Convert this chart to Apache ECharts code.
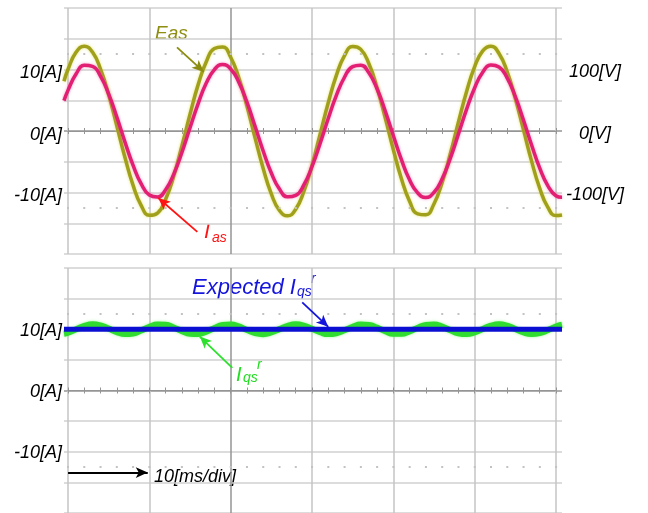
<!DOCTYPE html>
<html>
<head>
<meta charset="utf-8">
<script src="https://cdn.jsdelivr.net/npm/echarts@6/dist/echarts.min.js"></script>
<style>
  html, body { margin: 0; padding: 0; background: #fff; }
  #chart { width: 648px; height: 513px; }
</style>
</head>
<body>
<div id="chart"></div>
<script>
// sample times [ms]
var timesMs = [-0.5, 0, 1, 2, 3, 4, 5, 6, 7, 8, 9, 10, 11, 12, 13, 14, 15, 16, 17, 18, 19, 20,
  21, 22, 23, 24, 25, 26, 27, 28, 29, 30, 31, 32, 33, 34, 35, 36, 37, 38, 39, 40,
  41, 42, 43, 44, 45, 46, 47, 48, 49, 50, 51, 52, 53, 54, 55, 56, 57, 58, 59, 60, 60.75];

// Eas [V] (right axis)
var easV = [80.9, 100.4, 128.3, 138, 128.3, 100.4, 58.5, 8.2, -43.2, -88.5, -121.3, -137.0, -133.4,
  -110.9, -73.0, -24.4, 27.3, 75.4, 112.6, 134.1, 136.7, 120.0, 86.3, 40.6, -11.1, -60.9,
  -102.4, -129.3, -138.0, -127.2, -98.4, -55.9, -5.3, 45.8, 90.5, 122.6, 137.3, 132.7, 109.3,
  70.5, 21.8, -30.1, -77.6, -114.3, -134.7, -136.2, -118.6, -84.2, -37.8, 13.9, 63.5, 104.3,
  130.3, 137.9, 126.1, 96.5, 53.2, 2.6, -48.6, -92.7, -123.9, -137.6, -136.6];

// Ias [A] (left axis)
var iasA = [4.94, 6.65, 9.32, 10.68, 10.52, 8.89, 6.00, 2.26, -1.80, -5.59, -8.61, -10.41, -10.74,
  -9.56, -7.01, -3.50, 0.53, 4.46, 7.79, 9.99, 10.80, 10.08, 7.95, 4.68, 0.77, -3.26,
  -6.83, -9.44, -10.71, -10.47, -8.76, -5.80, -2.04, 2.03, 5.79, 8.74, 10.47, 10.71, 9.45,
  6.86, 3.28, -0.73, -4.67, -7.93, -10.07, -10.80, -10.00, -7.80, -4.48, -0.55, 3.48, 7.00,
  9.55, 10.73, 10.41, 8.63, 5.63, 1.82, -2.23, -5.98, -8.87, -10.52, -10.78];

// measured Iqs^r [A]
var iqsA = [9.27, 9.44, 9.99, 10.54, 10.80, 10.62, 10.11, 9.54, 9.22, 9.32, 9.80, 10.38, 10.76,
  10.72, 10.29, 9.70, 9.27, 9.24, 9.62, 10.21, 10.68, 10.78, 10.46, 9.89, 9.37, 9.20,
  9.47, 10.02, 10.56, 10.80, 10.60, 10.08, 9.51, 9.21, 9.34, 9.83, 10.41, 10.77, 10.71,
  10.26, 9.67, 9.26, 9.25, 9.65, 10.24, 10.70, 10.78, 10.43, 9.85, 9.35, 9.21, 9.49,
  10.05, 10.58, 10.80, 10.58, 10.04, 9.48, 9.21, 9.36, 9.86, 10.44, 10.73];

// expected Iqs^r [A]
var expTimesMs = [-0.5, 60.75];
var expIqsA = [10, 10];

// tick labels
var ampTicks = [10, 0, -10];
var ampLabels = ['10[A]', '0[A]', '-10[A]'];
var voltTicks = [100, 0, -100];
var voltLabels = ['100[V]', '0[V]', '-100[V]'];
var dotLevelsA = [12.5, -12.5];

function pairs(xs, ys) {
  return xs.map(function (x, i) { return [x, ys[i]]; });
}
function pickLabel(ticks, labels) {
  return function (v) {
    var i = ticks.indexOf(v);
    return i < 0 ? '' : labels[i];
  };
}

var GRID = '#d0d0d0';
var VGRID = '#c4c4c4';
var DARK = '#959595';
var FONT = '"Liberation Sans", Arial, sans-serif';
var hColors = [GRID, GRID, GRID, GRID, DARK, GRID, GRID, GRID, GRID];
var vColors = [VGRID, VGRID, DARK, VGRID, VGRID, VGRID, VGRID];

var labelStyle = {
  color: '#000', fontStyle: 'italic', fontSize: 18, fontFamily: FONT, verticalAlign: 'top'
};

function ampAxis(grid, shift) {
  return {
    gridIndex: grid, type: 'value', min: -20, max: 20, interval: 5, position: 'left',
    axisLine: { show: false, onZero: false }, axisTick: { show: false },
    splitLine: { show: true, lineStyle: { color: hColors, width: 1.5 } },
    axisLabel: Object.assign({ margin: 2, lineHeight: shift * 2, formatter: pickLabel(ampTicks, ampLabels) }, labelStyle)
  };
}
function hiddenY(grid, pos) {
  return { gridIndex: grid, type: 'value', min: -20, max: 20, position: pos, show: false };
}
function divAxis(grid, pos, lines) {
  return {
    gridIndex: grid, type: 'value', min: 0, max: 60, interval: 10, position: pos,
    axisLine: { show: true, onZero: true, lineStyle: { color: DARK, width: 1 } },
    axisTick: { show: true, length: 3, lineStyle: { color: DARK } },
    minorTick: { show: true, splitNumber: 5, length: 3, lineStyle: { color: DARK } },
    axisLabel: { show: false },
    splitLine: { show: lines, lineStyle: { color: vColors, width: 1.5 } }
  };
}
function dotLines() {
  return dotLevelsA.map(function (v) {
    return { yAxis: v, lineStyle: { color: '#c2c2c2', width: 2, type: [2, 14.27], dashOffset: 13.27 } };
  });
}
function arrow(from, to, color) {
  return [
    { coord: from, symbol: 'none', lineStyle: { color: color, width: 1.8, type: 'solid' } },
    { coord: to, symbol: 'arrow', symbolSize: [8, 12], itemStyle: { color: color } }
  ];
}

var chart = echarts.init(document.getElementById('chart'));

var option = {
  animation: false,
  backgroundColor: '#fff',
  grid: [
    { left: 64, right: 86, top: 8, height: 246 },
    { left: 68, right: 92, top: 8, height: 246 },
    { left: 64, right: 86, top: 268, height: 250 },
    { left: 68, right: 92, top: 268, height: 250 }
  ],
  xAxis: [
    { gridIndex: 0, type: 'value', min: -0.5, max: 60.75, show: false },
    divAxis(1, 'bottom', true),
    divAxis(1, 'top', false),
    { gridIndex: 2, type: 'value', min: -0.5, max: 60.75, show: false },
    divAxis(3, 'bottom', true),
    divAxis(3, 'top', false)
  ],
  yAxis: [
    ampAxis(0, 3.5),
    {
      gridIndex: 0, type: 'value', min: -200, max: 200, interval: 50, position: 'right',
      axisLine: { show: false, onZero: false }, axisTick: { show: false }, splitLine: { show: false },
      axisLabel: Object.assign({ margin: 33, align: 'center', lineHeight: 5,
        formatter: pickLabel(voltTicks, voltLabels) }, labelStyle)
    },
    hiddenY(1, 'left'),
    hiddenY(1, 'right'),
    ampAxis(2, 1.5),
    hiddenY(3, 'left'),
    hiddenY(3, 'right')
  ],
  series: [
    {
      name: 'Eas', type: 'line', xAxisIndex: 0, yAxisIndex: 1, smooth: true, showSymbol: false,
      data: pairs(timesMs, easV),
      lineStyle: { color: '#a0a01a', width: 3.5, shadowColor: 'rgba(215,215,60,0.7)', shadowBlur: 3 }
    },
    {
      name: 'Ias', type: 'line', xAxisIndex: 0, yAxisIndex: 0, smooth: true, showSymbol: false,
      data: pairs(timesMs, iasA),
      lineStyle: { color: '#e21f72', width: 3.5, shadowColor: 'rgba(240,90,160,0.6)', shadowBlur: 3 },
      markLine: {
        silent: true, animation: false, symbol: ['none', 'none'], label: { show: false },
        data: dotLines().concat([
          arrow([13.4, 13.6], [16.7, 9.6], '#8c8c10'),
          arrow([15.9, -16.4], [11.1, -10.9], '#ff1414')
        ])
      }
    },
    {
      name: 'Iqs^r', type: 'line', xAxisIndex: 3, yAxisIndex: 4, smooth: true, showSymbol: false,
      data: pairs(timesMs, iqsA),
      lineStyle: { color: '#2fdc2f', width: 6, shadowColor: 'rgba(120,240,120,0.7)', shadowBlur: 3 },
      markLine: {
        silent: true, animation: false, symbol: ['none', 'none'], label: { show: false },
        data: dotLines().concat([
          arrow([28.8, 14.4], [32.0, 10.4], '#1414dc'),
          arrow([20.2, 3.7], [16.2, 8.8], '#2ee02e'),
          arrow([0, -13.4], [9.8, -13.4], '#000')
        ])
      }
    },
    {
      name: 'Expected Iqs^r', type: 'line', xAxisIndex: 3, yAxisIndex: 4, showSymbol: false,
      data: pairs(expTimesMs, expIqsA),
      lineStyle: { color: '#0b0fd2', width: 5 }
    }
  ],
  graphic: [
    { type: 'text', x: 155, y: 34, style: { text: 'Eas', font: 'italic 19px ' + FONT, fill: '#8e8e12', verticalAlign: 'middle' } },
    { type: 'text', x: 204, y: 232, style: { text: 'I', font: 'italic 21px ' + FONT, fill: '#ff1414', verticalAlign: 'middle' } },
    { type: 'text', x: 212, y: 238, style: { text: 'as', font: 'italic 14px ' + FONT, fill: '#ff1414', verticalAlign: 'middle' } },
    { type: 'text', x: 192, y: 287.5, style: { text: 'Expected I', font: 'italic 22px ' + FONT, fill: '#1414dc', verticalAlign: 'middle' } },
    { type: 'text', x: 297, y: 292, style: { text: 'qs', font: 'italic 14px ' + FONT, fill: '#1414dc', verticalAlign: 'middle' } },
    { type: 'text', x: 311, y: 279, style: { text: 'r', font: 'italic 14px ' + FONT, fill: '#1414dc', verticalAlign: 'middle' } },
    { type: 'text', x: 236, y: 375.5, style: { text: 'I', font: 'italic 20px ' + FONT, fill: '#22dd22', verticalAlign: 'middle' } },
    { type: 'text', x: 243, y: 378, style: { text: 'qs', font: 'italic 14px ' + FONT, fill: '#22dd22', verticalAlign: 'middle' } },
    { type: 'text', x: 257, y: 365, style: { text: 'r', font: 'italic 14px ' + FONT, fill: '#22dd22', verticalAlign: 'middle' } },
    { type: 'text', x: 154, y: 477, style: { text: '10[ms/div]', font: 'italic 18px ' + FONT, fill: '#000', verticalAlign: 'middle' } }
  ]
};

chart.setOption(option);
</script>
</body>
</html>
